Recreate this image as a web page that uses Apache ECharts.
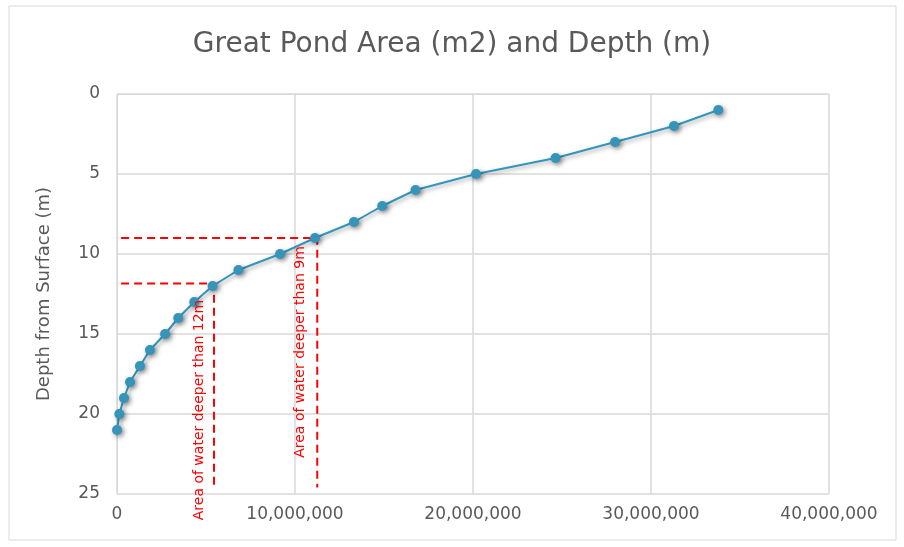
<!DOCTYPE html>
<html>
<head>
<meta charset="utf-8">
<script src="https://cdn.jsdelivr.net/npm/echarts@6/dist/echarts.min.js"></script>
<style>
  html, body { margin: 0; padding: 0; background: #fff; }
  #chart { width: 904px; height: 547px; }
</style>
</head>
<body>
<div id="chart"></div>
<script>
// depth (m) vs. pond area (m2)
var depths = [1, 2, 3, 4, 5, 6, 7, 8, 9, 10, 11, 12, 13, 14, 15, 16, 17, 18, 19, 20, 21];
var areas = [33780000, 31290000, 27980000, 24640000, 20170000, 16770000, 14900000, 13310000,
             11120000, 9160000, 6820000, 5370000, 4340000, 3440000, 2700000, 1850000,
             1290000, 730000, 390000, 130000, 0];

// guide lines: [area, depth]
var guide9 = [[-500000, 9], [11250000, 9], [11250000, 24.6]];
var guide12 = [[-500000, 11.85], [5450000, 11.85], [5450000, 24.6]];

var xTicks = { min: 0, max: 40000000, step: 10000000 };
var yTicks = { min: 0, max: 25, step: 5 };

var myChart = echarts.init(document.getElementById('chart'));

var labelFont = 'DejaVu Sans';
var grey = '#595959';
var gridColor = '#d9d9d9';

var pts = areas.map(function (a, i) { return [a, depths[i]]; });

function guideSeries(d) {
    return {
        type: 'line',
        data: d,
        symbol: 'none',
        clip: false,
        silent: true,
        lineStyle: { color: '#ff0000', width: 2, type: [8, 5] },
        z: 1
    };
}

function redText(str, x, y) {
    return {
        type: 'text',
        x: x, y: y,
        rotation: Math.PI / 2,
        style: {
            text: str,
            fill: '#ff0000',
            font: '14px "DejaVu Sans"',
            textAlign: 'center',
            textVerticalAlign: 'middle'
        },
        z: 10
    };
}

option = {
    backgroundColor: '#fff',
    animation: false,
    title: {
        text: 'Great Pond Area (m2) and Depth (m)',
        left: 'center',
        top: 26,
        textStyle: {
            fontFamily: labelFont,
            fontWeight: 'normal',
            fontSize: 28,
            color: grey
        }
    },
    graphic: [
        {
            type: 'rect',
            shape: { x: 9, y: 6, width: 887, height: 534 },
            style: { fill: 'none', stroke: '#d9d9d9', lineWidth: 1 },
            silent: true
        },
        redText('Area of water deeper than 12m', 199, 410),
        redText('Area of water deeper than 9m', 300, 352)
    ],
    grid: { left: 117, right: 75, top: 94, bottom: 53 },
    xAxis: {
        type: 'value',
        min: xTicks.min,
        max: xTicks.max,
        interval: xTicks.step,
        axisLine: { show: true, lineStyle: { color: gridColor } },
        axisTick: { show: false },
        splitLine: { show: true, lineStyle: { color: gridColor, width: 1.5 } },
        axisLabel: {
            color: grey,
            fontFamily: labelFont,
            fontSize: 17,
            margin: 12,
            formatter: function (v) { return v.toLocaleString('en-US'); }
        }
    },
    yAxis: {
        type: 'value',
        inverse: true,
        min: yTicks.min,
        max: yTicks.max,
        interval: yTicks.step,
        name: 'Depth from Surface (m)',
        nameLocation: 'middle',
        nameGap: 64,
        nameTextStyle: { color: grey, fontFamily: labelFont, fontSize: 18 },
        axisLine: { show: true, lineStyle: { color: gridColor } },
        axisTick: { show: false },
        splitLine: { show: true, lineStyle: { color: gridColor, width: 1.5 } },
        axisLabel: { color: grey, fontFamily: labelFont, fontSize: 17, margin: 17 }
    },
    series: [
        guideSeries(guide9),
        guideSeries(guide12),
        {
            type: 'line',
            data: pts,
            symbol: 'circle',
            symbolSize: 10,
            z: 5,
            lineStyle: {
                color: '#3494ba',
                width: 2,
                shadowColor: 'rgba(0,0,0,0.35)',
                shadowBlur: 4,
                shadowOffsetX: 2,
                shadowOffsetY: 2
            },
            itemStyle: {
                color: '#3494ba',
                shadowColor: 'rgba(0,0,0,0.45)',
                shadowBlur: 5,
                shadowOffsetX: 2,
                shadowOffsetY: 2
            }
        }
    ]
};
myChart.setOption(option);
</script>
</body>
</html>
